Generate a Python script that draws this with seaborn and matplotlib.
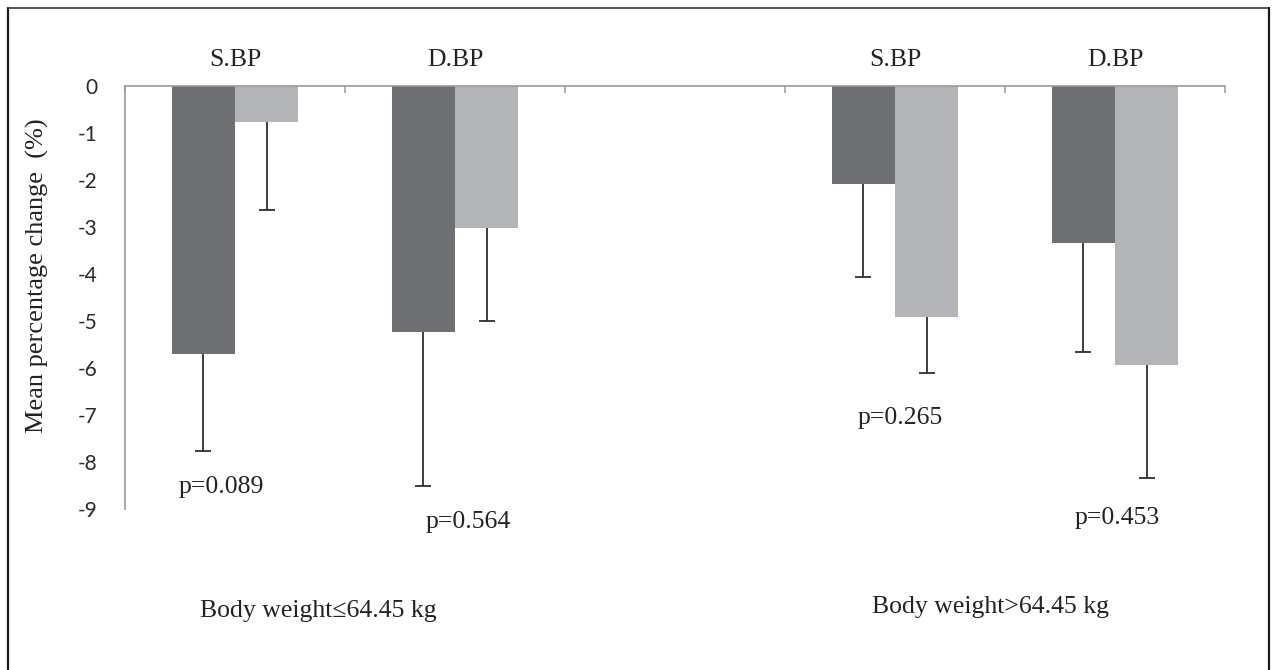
import pandas as pd
import numpy as np
import matplotlib
matplotlib.use("Agg")
import matplotlib.pyplot as plt
from matplotlib.lines import Line2D
import seaborn as sns

# Values (mean % change, negative = reduction)
groups = ["Body weight≤64.45 kg", "Body weight≤64.45 kg", "Body weight>64.45 kg", "Body weight>64.45 kg"]
measures = ["S.BP", "D.BP", "S.BP", "D.BP"]
dark_mean = [-5.70, -5.23, -2.09, -3.34]
dark_err = [2.07, 3.28, 1.97, 2.32]
light_mean = [-0.76, -3.02, -4.91, -5.94]
light_err = [1.87, 1.98, 1.19, 2.40]
p_values = ["p=0.089", "p=0.564", "p=0.265", "p=0.453"]
group_labels = ["Body weight≤64.45 kg", "Body weight>64.45 kg"]

# category keys, with an empty slot between the two body weight groups
keys = [m + " | " + g for m, g in zip(measures, groups)]
order = keys[:2] + ["gap"] + keys[2:]
tick_names = measures[:2] + [""] + measures[2:]

df = pd.DataFrame({
    "key": keys * 2,
    "series": ["dark"] * 4 + ["light"] * 4,
    "value": dark_mean + light_mean,
})
errs = {"dark": dark_err, "light": light_err}

sns.set_style("white")
plt.rcParams["font.family"] = ["Liberation Serif", "DejaVu Serif"]

fig = plt.figure(figsize=(12.72, 6.70), dpi=100)
ax = fig.add_axes([125 / 1272, 1 - 509 / 670, 1100 / 1272, 423 / 670])

sns.barplot(data=df, x="key", y="value", hue="series", order=order,
            hue_order=["dark", "light"], palette=["#6e6f73", "#b3b4b8"],
            width=0.573, saturation=1, legend=False, ax=ax, linewidth=0)

# one-sided (downward) error bars from the drawn bars, cap only at the far end
for cont, name in zip(ax.containers, ["dark", "light"]):
    xs = np.array([b.get_x() + b.get_width() / 2 for b in cont])
    ys = np.array([min(b.get_y(), b.get_y() + b.get_height()) for b in cont])
    e = np.array(errs[name])
    ax.errorbar(xs, ys, yerr=[e, np.zeros(len(e))], fmt="none",
                ecolor="#2e2e2e", elinewidth=1.3, capsize=0)
    ax.plot(xs, ys - e, ls="none", marker="_", markersize=11,
            markeredgewidth=1.3, color="#2e2e2e")

ax.set_xlim(-0.5, len(order) - 0.5)
ax.set_ylim(-9, 0)
ax.set_yticks(range(-9, 1))
ax.set_yticklabels([str(v) for v in range(-9, 1)], family=["Lato", "DejaVu Sans"],
                   fontsize=15, color="#2a2a2a")
ax.set_xlabel("")
ax.set_ylabel("")

# axis at the top: boundary ticks, category names above
ax.xaxis.set_ticks_position("top")
ax.set_xticks(np.arange(-0.5, len(order)), labels=[""] * (len(order) + 1))
ax.set_xticks(range(len(order)), labels=tick_names, minor=True)
ax.tick_params(axis="x", which="major", direction="in", length=5, width=1.1, color="#9a9a9a")
ax.tick_params(axis="x", which="minor", length=0, pad=11, labelsize=18.5, labelcolor="#222222")
ax.tick_params(axis="y", direction="out", length=7, width=1.1, color="#9a9a9a", pad=13)

for s in ["bottom", "right"]:
    ax.spines[s].set_visible(False)
for s in ["top", "left"]:
    ax.spines[s].set_color("#9a9a9a")
    ax.spines[s].set_linewidth(1.2)

# p-values below each pair
p_pos = [(-0.064, -8.53), (1.059, -9.28), (3.023, -7.06), (4.009, -9.19)]
for (px, py), txt in zip(p_pos, p_values):
    ax.text(px, py, txt, ha="center", va="center", fontsize=18.5, color="#222222",
            clip_on=False)

fig.text(318 / 1272, 1 - 611 / 670, group_labels[0], ha="center", va="center",
         fontsize=18.5, color="#222222")
fig.text(991 / 1272, 1 - 607 / 670, group_labels[1], ha="center", va="center",
         fontsize=18.5, color="#222222")
fig.text(37 / 1272, 1 - 276 / 670, "Mean percentage change  (%)", rotation=90,
         ha="center", va="center", fontsize=19, color="#222222")

# outer frame (open at the bottom)
fx0, fx1, fy1 = 8 / 1272, 1269 / 1272, 1 - 8 / 670
fig.add_artist(Line2D([fx0, fx0], [0, fy1], color="#1a1a1a", lw=1.6))
fig.add_artist(Line2D([fx0, fx1], [fy1, fy1], color="#3a3a3a", lw=1.2))
fig.add_artist(Line2D([fx1, fx1], [0, fy1], color="#1a1a1a", lw=1.6))

fig.savefig("out.png", dpi=100)
